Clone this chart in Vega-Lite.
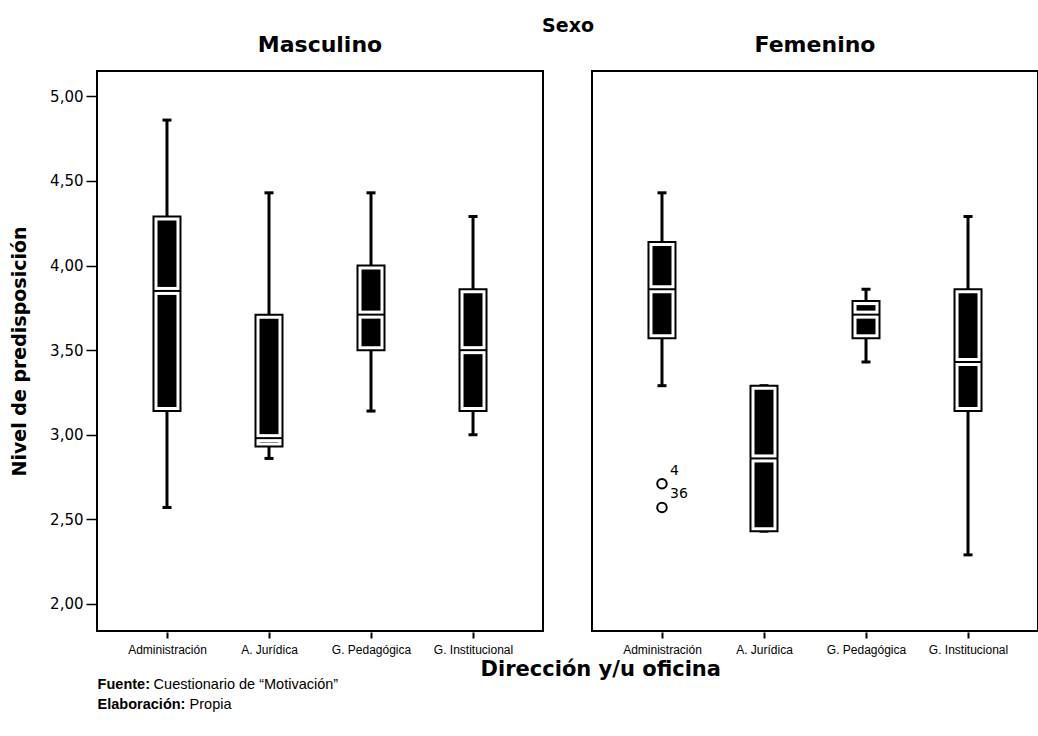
{
  "$schema": "https://vega.github.io/schema/vega-lite/v6.json",
  "background": "white",
  "padding": {"left": 10, "top": 17, "right": 0, "bottom": 0},
  "config": {
    "view": {"stroke": "black", "strokeWidth": 2},
    "header": {
      "titleFont": "DejaVu Sans", "titleFontSize": 19, "titleFontWeight": "bold", "titleColor": "black", "titlePadding": -12,
      "labelFont": "DejaVu Sans", "labelFontSize": 22, "labelFontWeight": "bold", "labelColor": "black", "labelPadding": 13
    },
    "axisY": {
      "labelFont": "DejaVu Sans", "labelFontSize": 15, "labelColor": "black", "tickSize": 10, "tickWidth": 1.5, "tickColor": "black",
      "labelPadding": 3, "domain": false, "grid": false,
      "titleFont": "DejaVu Sans", "titleFontSize": 19, "titleFontWeight": "bold", "titleColor": "black", "titlePadding": 20
    },
    "axisX": {
      "labelFont": "Liberation Sans", "labelFontSize": 12, "labelColor": "black", "labelAngle": 0, "tickSize": 6, "tickWidth": 2, "tickColor": "black",
      "labelPadding": 6, "domain": false, "grid": false
    },
    "title": {"font": "Liberation Sans", "fontSize": 14.5, "color": "black", "orient": "bottom", "anchor": "start", "offset": 2}
  },
  "title": {"text": ["Fuente:", "Elaboración:"], "fontWeight": "bold", "lineHeight": 20, "dx": 87, "dy": -35},
  "vconcat": [
    {
      "title": {"text": "Propia", "fontWeight": "normal", "dx": 179, "offset": 6},
      "vconcat": [
        {
          "title": {"text": "Cuestionario de “Motivación”", "fontWeight": "normal", "dx": 143, "offset": -2},
          "vconcat": [
            {
              "title": {"text": "Dirección y/u oficina", "anchor": "middle", "font": "DejaVu Sans", "fontSize": 21, "fontWeight": "bold", "dx": 76, "offset": 4},
              "data": {
                "values": [
                  {"kind": "box", "sexo": "Masculino", "dir": "Administración", "min": 2.57, "q1": 3.14, "med": 3.85, "q3": 4.29, "max": 4.86},
                  {"kind": "box", "sexo": "Masculino", "dir": "A. Jurídica", "min": 2.86, "q1": 2.93, "med": 2.98, "q3": 3.71, "max": 4.43},
                  {"kind": "box", "sexo": "Masculino", "dir": "G. Pedagógica", "min": 3.14, "q1": 3.5, "med": 3.71, "q3": 4.0, "max": 4.43},
                  {"kind": "box", "sexo": "Masculino", "dir": "G. Institucional", "min": 3.0, "q1": 3.14, "med": 3.5, "q3": 3.86, "max": 4.29},
                  {"kind": "box", "sexo": "Femenino", "dir": "Administración", "min": 3.29, "q1": 3.57, "med": 3.86, "q3": 4.14, "max": 4.43},
                  {"kind": "box", "sexo": "Femenino", "dir": "A. Jurídica", "min": 2.43, "q1": 2.43, "med": 2.86, "q3": 3.29, "max": 3.29},
                  {"kind": "box", "sexo": "Femenino", "dir": "G. Pedagógica", "min": 3.43, "q1": 3.57, "med": 3.71, "q3": 3.79, "max": 3.86},
                  {"kind": "box", "sexo": "Femenino", "dir": "G. Institucional", "min": 2.29, "q1": 3.14, "med": 3.43, "q3": 3.86, "max": 4.29},
                  {"kind": "out", "sexo": "Femenino", "dir": "Administración", "value": 2.71, "caso": "4"},
                  {"kind": "out", "sexo": "Femenino", "dir": "Administración", "value": 2.57, "caso": "36"}
                ]
              },
              "facet": {
                "column": {"field": "sexo", "type": "nominal", "sort": ["Masculino", "Femenino"], "title": "Sexo"}
              },
              "spacing": 47,
              "spec": {
                "width": 446,
                "height": 560,
                "encoding": {
                  "x": {"field": "dir", "type": "nominal", "sort": ["Administración", "A. Jurídica", "G. Pedagógica", "G. Institucional"],
                        "scale": {"type": "point", "padding": 0.686}, "title": null}
                },
                "layer": [
                  {
                    "transform": [{"filter": "datum.kind == 'box'"}],
                    "mark": {"type": "rule", "strokeWidth": 3, "color": "black"},
                    "encoding": {
                      "y": {"field": "min", "type": "quantitative", "title": "Nivel de predisposición",
                            "scale": {"domain": [1.84, 5.15], "nice": false, "zero": false},
                            "axis": {"values": [2, 2.5, 3, 3.5, 4, 4.5, 5], "labelExpr": "replace(format(datum.value, '.2f'), '.', ',')"}},
                      "y2": {"field": "max"}
                    }
                  },
                  {
                    "transform": [{"filter": "datum.kind == 'box'"}],
                    "mark": {"type": "tick", "orient": "horizontal", "size": 9, "thickness": 3, "color": "black", "opacity": 1},
                    "encoding": {"y": {"field": "min", "type": "quantitative", "title": "Nivel de predisposición"}}
                  },
                  {
                    "transform": [{"filter": "datum.kind == 'box'"}],
                    "mark": {"type": "tick", "orient": "horizontal", "size": 9, "thickness": 3, "color": "black", "opacity": 1},
                    "encoding": {"y": {"field": "max", "type": "quantitative", "title": "Nivel de predisposición"}}
                  },
                  {
                    "transform": [{"filter": "datum.kind == 'box'"}],
                    "mark": {"type": "bar", "size": 27, "fill": "white", "stroke": "black", "strokeWidth": 2},
                    "encoding": {"y": {"field": "q3", "type": "quantitative", "title": "Nivel de predisposición"}, "y2": {"field": "q1"}}
                  },
                  {
                    "transform": [{"filter": "datum.kind == 'box'"}],
                    "mark": {"type": "bar", "size": 19, "fill": "black", "yOffset": 4, "y2Offset": -4},
                    "encoding": {"y": {"field": "q3", "type": "quantitative", "title": "Nivel de predisposición"}, "y2": {"field": "q1"}}
                  },
                  {
                    "transform": [{"filter": "datum.kind == 'box'"}],
                    "mark": {"type": "tick", "orient": "horizontal", "size": 21, "thickness": 8, "color": "white", "opacity": 1},
                    "encoding": {"y": {"field": "med", "type": "quantitative", "title": "Nivel de predisposición"}}
                  },
                  {
                    "transform": [{"filter": "datum.kind == 'box'"}],
                    "mark": {"type": "tick", "orient": "horizontal", "size": 27, "thickness": 2, "color": "black", "opacity": 1},
                    "encoding": {"y": {"field": "med", "type": "quantitative", "title": "Nivel de predisposición"}}
                  },
                  {
                    "transform": [{"filter": "datum.kind == 'out'"}],
                    "mark": {"type": "point", "shape": "circle", "filled": false, "size": 90, "strokeWidth": 2, "color": "black", "opacity": 1},
                    "encoding": {"y": {"field": "value", "type": "quantitative", "title": "Nivel de predisposición"}}
                  },
                  {
                    "transform": [{"filter": "datum.kind == 'out'"}],
                    "mark": {"type": "text", "align": "left", "baseline": "middle", "dx": 8, "dy": -13, "font": "DejaVu Sans", "fontSize": 14, "color": "black"},
                    "encoding": {"y": {"field": "value", "type": "quantitative", "title": "Nivel de predisposición"}, "text": {"field": "caso"}}
                  }
                ]
              }
            }
          ]
        }
      ]
    }
  ]
}
